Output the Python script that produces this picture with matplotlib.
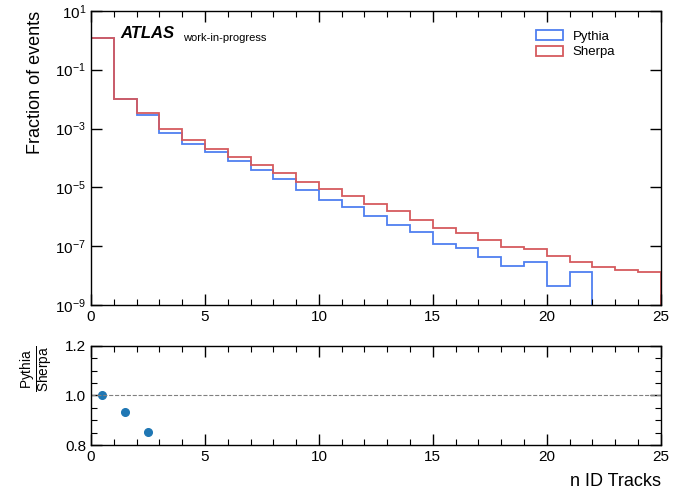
import numpy as np
import matplotlib
matplotlib.use("Agg")
import matplotlib.pyplot as plt
from matplotlib.patches import Patch
from matplotlib.ticker import MultipleLocator, FixedLocator, LogFormatterMathtext

plt.rcParams['font.family'] = ['Liberation Sans', 'DejaVu Sans']
plt.rcParams['mathtext.fontset'] = 'custom'
plt.rcParams['mathtext.rm'] = 'Liberation Sans'
plt.rcParams['mathtext.it'] = 'Liberation Sans:italic'
plt.rcParams['mathtext.bf'] = 'Liberation Sans:bold'

bin_edges = list(range(0, 26))
pythia = [1.19, 0.0097, 0.0029, 7.1e-4, 2.95e-4, 1.55e-4, 7.6e-5, 3.8e-5, 1.9e-5,
          8.1e-6, 3.7e-6, 2.15e-6, 1.07e-6, 5.2e-7, 2.95e-7, 1.15e-7, 8.5e-8,
          4.3e-8, 2.1e-8, 2.8e-8, 4.3e-9, 1.35e-8, 0.0, 0.0, 0.0]
sherpa = [1.19, 0.0104, 0.0034, 9.5e-4, 4.2e-4, 2.04e-4, 1.1e-4, 5.7e-5, 3.05e-5,
          1.55e-5, 8.7e-6, 4.95e-6, 2.65e-6, 1.55e-6, 7.6e-7, 4.0e-7, 2.8e-7,
          1.63e-7, 9.7e-8, 7.9e-8, 4.6e-8, 2.8e-8, 2.0e-8, 1.55e-8, 1.32e-8]
series_names = ["Pythia", "Sherpa"]
xlabel = "n ID Tracks"
ylabel = "Fraction of events"

blue = '#4f7ff0'
red = '#d55a5e'

edges = np.array(bin_edges, dtype=float)
p = np.array(pythia)
s = np.array(sherpa)
centers = 0.5 * (edges[:-1] + edges[1:])
ratio = np.divide(p, s, out=np.full_like(p, np.nan), where=s > 0)

fig = plt.figure(figsize=(6.84, 4.92), dpi=100)
ax = fig.add_axes([0.133, 0.380, 0.833, 0.598])
rax = fig.add_axes([0.133, 0.0955, 0.833, 0.2015])

ax.stairs(p, edges, color=blue, lw=1.3)
ax.stairs(s, edges, color=red, lw=1.3)
ax.set_yscale('log')
ax.set_ylim(1e-9, 1e1)
ax.set_xlim(0, 25)
ax.yaxis.set_major_locator(FixedLocator([10.0**k for k in range(-9, 2, 2)]))
ax.yaxis.set_major_formatter(LogFormatterMathtext())
ax.yaxis.set_minor_locator(FixedLocator([]))
ax.xaxis.set_major_locator(MultipleLocator(5))
ax.xaxis.set_minor_locator(MultipleLocator(1))
ax.set_ylabel(ylabel, fontsize=13, loc='top', labelpad=8)

handles = [Patch(facecolor='none', edgecolor=blue, lw=1.3),
           Patch(facecolor='none', edgecolor=red, lw=1.3)]
ax.legend(handles, series_names, loc='upper left', bbox_to_anchor=(0.762, 0.97),
          frameon=False, fontsize=9.5, handlelength=2.1, handleheight=0.75,
          labelspacing=0.25, handletextpad=0.7, borderpad=0.3)

ax.text(0.052, 0.908, 'ATLAS', transform=ax.transAxes, fontsize=12,
        fontweight='bold', fontstyle='italic')
ax.text(0.161, 0.898, 'work-in-progress', transform=ax.transAxes, fontsize=8)

rax.plot(centers, ratio, 'o', color='#1f77b4', ms=5.5)
rax.axhline(1.0, color='gray', ls='--', lw=0.8)
rax.set_xlim(0, 25)
rax.set_ylim(0.8, 1.2)
rax.yaxis.set_major_locator(MultipleLocator(0.2))
rax.yaxis.set_minor_locator(MultipleLocator(0.05))
rax.xaxis.set_major_locator(MultipleLocator(5))
rax.xaxis.set_minor_locator(MultipleLocator(1))
rax.set_ylabel(r'$\frac{\mathrm{Pythia}}{\mathrm{Sherpa}}$', fontsize=14, loc='top', labelpad=6)
rax.set_xlabel(xlabel, fontsize=13, loc='right')
rax.xaxis.set_label_coords(1.0, -0.28)

for a in (ax, rax):
    a.tick_params(which='both', direction='in', top=True, right=True, labelsize=11)
    a.tick_params(which='major', length=8, width=1)
    a.tick_params(which='minor', length=4, width=0.8)
    for sp in a.spines.values():
        sp.set_linewidth(1.0)

fig.savefig('out.png', dpi=100)
